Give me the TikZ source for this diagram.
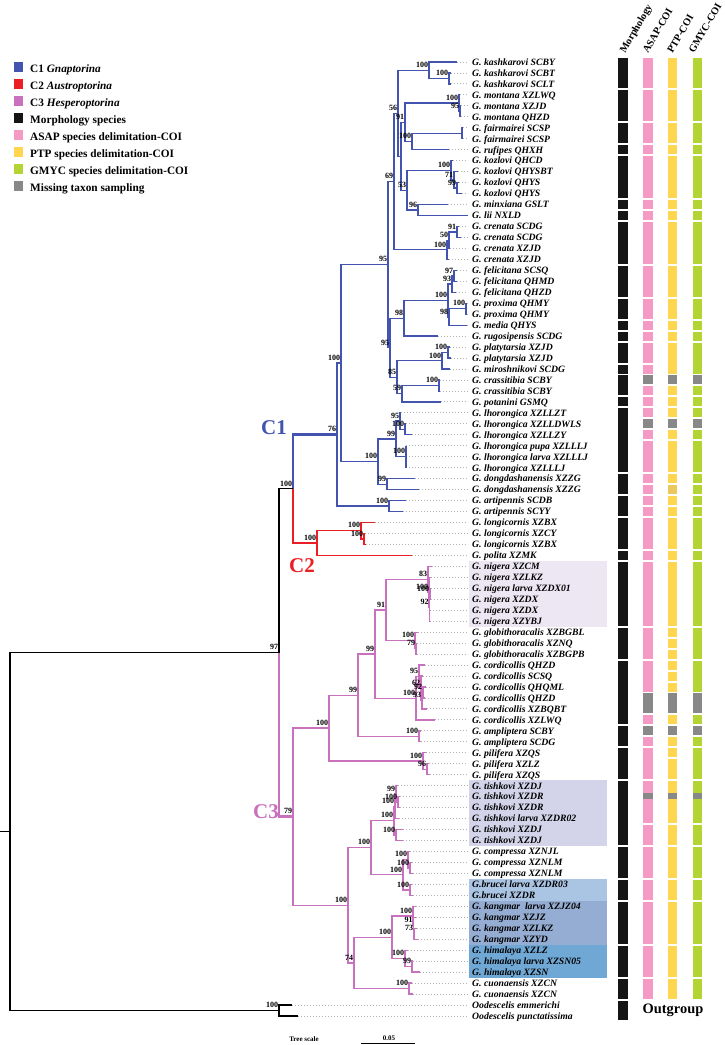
\documentclass[tikz,border=0pt]{standalone}
\usepackage{fontspec}
\setmainfont{Liberation Serif}
\usetikzlibrary{calc}
\definecolor{cblue}{RGB}{66,84,176}
\definecolor{cred}{RGB}{235,30,36}
\definecolor{cpink}{RGB}{201,112,191}
\definecolor{mblack}{RGB}{22,20,20}
\definecolor{asap}{RGB}{244,154,196}
\definecolor{ptp}{RGB}{255,214,80}
\definecolor{ptpd}{RGB}{234,200,92}
\definecolor{gmyc}{RGB}{180,211,53}
\definecolor{miss}{RGB}{136,136,136}
\definecolor{hlnig}{RGB}{237,231,243}
\definecolor{hltis}{RGB}{211,211,234}
\definecolor{hlbru}{RGB}{170,196,227}
\definecolor{hlkan}{RGB}{149,173,210}
\definecolor{hlhim}{RGB}{112,168,213}
\newcommand\myfs[1]{\fontsize{#1}{#1}\selectfont}
\newcommand\LY[1]{(62+(#1-1)*10.965)}
\newcommand\nd[4]{\path let \p1=(#3), \p2=(#4) in coordinate (#1) at (#2pt,{0.5*\y1+0.5*\y2});}
\newcommand\E[3]{\draw[#1] (#2) |- (#3);}
\newcommand\Eb[4]{\draw[#1] (#2) |- (#3) (#2) |- (#4);}
\newcommand\bs[2]{\node[bsl] (bs-#1) at (#1) {#2};}
\begin{document}
\begin{tikzpicture}[x=1pt,y=-1pt,
  lab/.style={anchor=base west, inner sep=0pt, font=\myfs{9.7}\bfseries\itshape},
  bsl/.style={anchor=south east, inner sep=0pt, xshift=-0.6pt, yshift=2.5pt, font=\myfs{8}\bfseries},
  lead/.style={draw=black!30, line width=0.9pt, dash pattern=on 0.9pt off 2.1pt},
  br1/.style={draw=cblue, line width=1.3pt},
  br1t/.style={draw=cblue, line width=2.6pt},
  br2/.style={draw=cred, line width=1.3pt},
  br2t/.style={draw=cred, line width=2.6pt},
  br3/.style={draw=cpink, line width=1.3pt},
  br3t/.style={draw=cpink, line width=2.6pt},
  brk/.style={draw=black, line width=1.3pt},
  leg/.style={anchor=base west, inner sep=0pt, font=\myfs{11.3}\bfseries},
  hdr/.style={anchor=base west, inner sep=0pt, rotate=60, font=\myfs{10.3}\bfseries},
  cl/.style={inner sep=0pt, font=\myfs{21}\bfseries}]
\fill[white] (0,0) rectangle (725,1045);
\useasboundingbox (0,0) rectangle (725,1045);
% highlights
\fill[hlnig] (469,{\LY{47}-5.5}) rectangle (607,{\LY{52}+5.5});
\fill[hltis] (469,{\LY{67}-5.5}) rectangle (607,{\LY{72}+5.5});
\fill[hlbru] (469,{\LY{76}-5.5}) rectangle (607,{\LY{77}+5.5});
\fill[hlkan] (469,{\LY{78}-5.5}) rectangle (607,{\LY{81}+5.5});
\fill[hlhim] (469,{\LY{82}-5.5}) rectangle (607,{\LY{84}+5.5});
% leaf tips
\foreach \i/\x in {1/457,2/451,3/451,4/460,5/461,6/461,7/463,8/463,9/449,10/453,
 11/458,12/459,13/462,14/448,15/468,16/459,17/461,18/450,19/449,20/457,
 21/457,22/456,23/467,24/467,25/467,26/438,27/450,28/451,29/450,30/440,
 31/440,32/441,33/401,34/406,35/412,36/406,37/406,38/406,39/415,40/419,
 41/406,42/403,43/375,44/365,45/366,46/412,47/432,48/431,49/431,50/431,
 51/430,52/430,53/418,54/417,55/417,56/425,57/423,58/426,59/425,60/427,
 61/435,62/421,63/421,64/426,65/429,66/430,67/398,68/400,69/400,70/399,
 71/403,72/403,73/410,74/412,75/413,76/412,77/413,78/416,79/416,80/417,
 81/418,82/408,83/413,84/420,85/412,86/413,87/292,88/298}
 {\coordinate (t\i) at (\x,{\LY{\i}});}
% internal nodes C1
\nd{K2}{449}{t2}{t3}
\nd{K}{429}{t1}{K2}
\nd{Mo2}{460}{t5}{t6}
\nd{Mo}{459}{t4}{Mo2}
\nd{Fa}{462}{t7}{t8}
\nd{FR}{412}{Fa}{t9}
\nd{MF}{405}{Mo}{FR}
\nd{Kz3}{457}{t12}{t13}
\nd{Kz2}{454}{t11}{Kz3}
\nd{Kz}{451}{t10}{Kz2}
\nd{Nn96}{418}{t14}{t15}
\nd{Nn53}{407}{Kz}{Nn96}
\nd{Nx}{401}{MF}{Nn53}
\nd{Nn56}{398}{K}{Nx}
\nd{Cr2}{457}{t16}{t17}
\nd{Cr1}{449}{Cr2}{t18}
\nd{Cr}{447}{Cr1}{t19}
\nd{Nn69}{394}{Nn56}{Cr}
\nd{F2}{454}{t20}{t21}
\nd{Ff}{452}{F2}{t22}
\nd{Px}{466}{t23}{t24}
\nd{PM}{449}{Px}{t25}
\nd{FPM}{448}{Ff}{PM}
\nd{Nn98}{404}{FPM}{t26}
\nd{Pl}{448}{t27}{t28}
\nd{PMi}{442}{Pl}{t29}
\nd{Cs}{439}{t30}{t31}
\nd{Nn59}{402}{Cs}{t32}
\nd{Nn85}{397}{PMi}{Nn59}
\nd{Nn95b}{390}{Nn98}{Nn85}
\nd{Nn95}{388}{Nn69}{Nn95b}
\nd{Lh2}{405}{t34}{t35}
\nd{Lh1}{400}{t33}{Lh2}
\nd{Lh3}{406}{t36}{t38}
\nd{Lh}{396}{Lh1}{Lh3}
\nd{Dd}{387}{t39}{t40}
\nd{LD}{378}{Lh}{Dd}
\nd{Na}{341}{Nn95}{LD}
\nd{Ar}{389}{t41}{t42}
\nd{Cone}{337}{Na}{Ar}
% C2
\nd{Lo2}{364}{t44}{t45}
\nd{Lo}{361}{t43}{Lo2}
\nd{Ctwo}{317}{Lo}{t46}
\nd{CC}{293}{Cone}{Ctwo}
% C3
\nd{Ng3}{430}{t49}{t50}
\nd{Ng2}{429.5}{Ng3}{t52}
\nd{Ng1}{429}{t48}{Ng2}
\nd{Ng}{428}{t47}{Ng1}
\nd{G2}{416}{t54}{t55}
\nd{Gg}{415}{t53}{G2}
\nd{N91}{386}{Ng}{Gg}
\nd{Yy}{423}{t58}{t59}
\nd{Zz}{422}{Yy}{t60}
\nd{Xx}{421}{t57}{Zz}
\nd{Co1}{419}{t56}{Xx}
\nd{Co}{416}{Co1}{t61}
\nd{A11}{375}{N91}{Co}
\nd{Am}{419}{t62}{t63}
\nd{A1}{358}{A11}{Am}
\nd{P2}{427}{t65}{t66}
\nd{Pf}{423}{t64}{P2}
\nd{Aa}{329}{A1}{Pf}
\nd{T1b}{398}{t68}{t69}
\nd{T1a}{396}{t67}{T1b}
\nd{T1}{395}{T1a}{t70}
\nd{T2}{396}{t71}{t72}
\nd{Tt}{394}{T1}{T2}
\nd{Cp2}{410}{t74}{t75}
\nd{Cp}{408}{t73}{Cp2}
\nd{Br}{410}{t76}{t77}
\nd{CB}{403}{Cp}{Br}
\nd{B1}{371}{Tt}{CB}
\nd{Km3}{414}{t80}{t81}
\nd{Km2}{413.5}{t79}{Km3}
\nd{Km}{413}{t78}{Km2}
\nd{H2}{412}{t83}{t84}
\nd{Hh}{405}{t82}{H2}
\nd{KH}{392}{Km}{Hh}
\nd{Cu}{409}{t85}{t86}
\nd{B2}{354}{KH}{Cu}
\nd{Bb}{348}{B1}{B2}
\nd{N79}{293}{Aa}{Bb}
\nd{N97}{279}{CC}{N79}
\nd{Oo}{279}{t87}{t88}
\nd{Rt}{10}{N97}{Oo}
\coordinate (O0) at (0,0);
\coordinate (LX) at (468,0);
% leaders
\foreach \i in {1,...,88} {\draw[lead] (t\i) -- (t\i -| LX);}
% branches C1
\Eb{br1}{K2}{t2}{t3}
\Eb{br1}{K}{t1}{K2}
\Eb{br1}{Mo2}{t5}{t6}
\Eb{br1}{Mo}{t4}{Mo2}
\Eb{br1}{Fa}{t7}{t8}
\Eb{br1}{FR}{Fa}{t9}
\Eb{br1}{MF}{Mo}{FR}
\Eb{br1}{Kz3}{t12}{t13}
\Eb{br1}{Kz2}{t11}{Kz3}
\Eb{br1}{Kz}{t10}{Kz2}
\Eb{br1}{Nn96}{t14}{t15}
\Eb{br1}{Nn53}{Kz}{Nn96}
\Eb{br1}{Nx}{MF}{Nn53}
\Eb{br1}{Nn56}{K}{Nx}
\Eb{br1}{Cr2}{t16}{t17}
\Eb{br1}{Cr1}{Cr2}{t18}
\Eb{br1}{Cr}{Cr1}{t19}
\Eb{br1}{Nn69}{Nn56}{Cr}
\Eb{br1}{F2}{t20}{t21}
\Eb{br1}{Ff}{F2}{t22}
\Eb{br1}{Px}{t23}{t24}
\Eb{br1}{PM}{Px}{t25}
\Eb{br1}{FPM}{Ff}{PM}
\Eb{br1}{Nn98}{FPM}{t26}
\Eb{br1}{Pl}{t27}{t28}
\Eb{br1}{PMi}{Pl}{t29}
\Eb{br1}{Cs}{t30}{t31}
\Eb{br1}{Nn59}{Cs}{t32}
\Eb{br1}{Nn85}{PMi}{Nn59}
\Eb{br1}{Nn95b}{Nn98}{Nn85}
\Eb{br1}{Nn95}{Nn69}{Nn95b}
\Eb{br1}{Lh2}{t34}{t35}
\Eb{br1}{Lh1}{t33}{Lh2}
\Eb{br1}{Lh3}{t36}{t38}
\E{br1}{Lh3}{t37}
\Eb{br1}{Lh}{Lh1}{Lh3}
\Eb{br1}{Dd}{t39}{t40}
\Eb{br1}{LD}{Lh}{Dd}
\Eb{br1}{Na}{Nn95}{LD}
\Eb{br1}{Ar}{t41}{t42}
\Eb{br1}{Cone}{Na}{Ar}
% C2
\Eb{br2}{Lo2}{t44}{t45}
\Eb{br2}{Lo}{t43}{Lo2}
\Eb{br2}{Ctwo}{Lo}{t46}
% C3
\Eb{br3}{Ng3}{t49}{t50}
\Eb{br3}{Ng2}{Ng3}{t52}
\E{br3}{Ng2}{t51}
\Eb{br3}{Ng1}{t48}{Ng2}
\Eb{br3}{Ng}{t47}{Ng1}
\Eb{br3}{G2}{t54}{t55}
\Eb{br3}{Gg}{t53}{G2}
\Eb{br3}{N91}{Ng}{Gg}
\Eb{br3}{Yy}{t58}{t59}
\Eb{br3}{Zz}{Yy}{t60}
\Eb{br3}{Xx}{t57}{Zz}
\Eb{br3}{Co1}{t56}{Xx}
\Eb{br3}{Co}{Co1}{t61}
\Eb{br3}{A11}{N91}{Co}
\Eb{br3}{Am}{t62}{t63}
\Eb{br3}{A1}{A11}{Am}
\Eb{br3}{P2}{t65}{t66}
\Eb{br3}{Pf}{t64}{P2}
\Eb{br3}{Aa}{A1}{Pf}
\Eb{br3}{T1b}{t68}{t69}
\Eb{br3}{T1a}{t67}{T1b}
\Eb{br3}{T1}{T1a}{t70}
\Eb{br3}{T2}{t71}{t72}
\Eb{br3}{Tt}{T1}{T2}
\Eb{br3}{Cp2}{t74}{t75}
\Eb{br3}{Cp}{t73}{Cp2}
\Eb{br3}{Br}{t76}{t77}
\Eb{br3}{CB}{Cp}{Br}
\Eb{br3}{B1}{Tt}{CB}
\Eb{br3}{Km3}{t80}{t81}
\Eb{br3}{Km2}{t79}{Km3}
\Eb{br3}{Km}{t78}{Km2}
\Eb{br3}{H2}{t83}{t84}
\Eb{br3}{Hh}{t82}{H2}
\Eb{br3}{KH}{Km}{Hh}
\Eb{br3}{Cu}{t85}{t86}
\Eb{br3}{B2}{KH}{Cu}
\Eb{br3}{Bb}{B1}{B2}
\Eb{br3}{N79}{Aa}{Bb}
% backbone
\E{br1t}{CC}{Cone}
\E{br2t}{CC}{Ctwo}
\E{br3t}{N97}{N79}
\E{brk}{N97}{CC}
\Eb{brk}{Oo}{t87}{t88}
\Eb{brk}{Rt}{N97}{Oo}
\draw[brk] (O0 |- Rt) -- (Rt);
% bootstrap
\bs{K}{100}\bs{K2}{100}\bs{Mo}{100}\bs{Mo2}{95}\bs{FR}{100}\bs{MF}{91}
\bs{Kz}{100}\bs{Kz2}{71}\bs{Kz3}{99}\bs{Nn96}{96}\bs{Nn53}{53}\bs{Nn56}{56}
\bs{Cr2}{91}\bs{Cr1}{50}\bs{Cr}{100}\bs{Nn69}{69}\bs{F2}{97}\bs{Ff}{93}
\bs{Px}{100}\bs{PM}{98}\bs{FPM}{100}\bs{Nn98}{98}\bs{Pl}{100}\bs{PMi}{100}
\bs{Cs}{100}\bs{Nn59}{59}\bs{Nn85}{85}\bs{Nn95b}{95}\bs{Nn95}{95}
\bs{Lh2}{100}\bs{Lh1}{95}\bs{Lh3}{100}\bs{Lh}{99}\bs{Dd}{99}\bs{LD}{100}
\bs{Na}{100}\bs{Ar}{100}\bs{Cone}{76}\bs{CC}{100}
\bs{Lo2}{100}\bs{Lo}{100}\bs{Ctwo}{100}\bs{N97}{97}\bs{Oo}{100}
\bs{Ng}{83}\bs{Ng1}{100}\bs{Ng3}{100}\bs{Ng2}{92}\bs{Gg}{100}\bs{G2}{79}
\bs{N91}{91}\bs{Co}{100}\bs{Co1}{95}\bs{Xx}{62}\bs{Zz}{93}\bs{Yy}{92}
\bs{A11}{99}\bs{Am}{100}\bs{A1}{99}\bs{Pf}{100}\bs{P2}{96}\bs{Aa}{100}
\bs{Tt}{100}\bs{T1}{100}\bs{T1a}{99}\bs{T1b}{100}\bs{T2}{100}
\bs{Cp}{100}\bs{Cp2}{100}\bs{Br}{100}\bs{CB}{100}\bs{B1}{100}
\bs{Km}{100}\bs{Km2}{91}\bs{Km3}{73}\bs{Hh}{100}\bs{H2}{99}\bs{KH}{100}
\bs{Cu}{100}\bs{B2}{74}\bs{Bb}{100}\bs{N79}{79}
% clade labels
\node[cl, text=cblue] (lc1) at (274,428) {C1};
\node[cl, text=cred] (lc2) at (302,566) {C2};
\node[cl, text=cpink] (lc3) at (266,812) {C3};
% leaf labels
\foreach \i/\t in {1/G. kashkarovi SCBY,2/G. kashkarovi SCBT,3/G. kashkarovi SCLT,
 4/G. montana XZLWQ,5/G. montana XZJD,6/G. montana QHZD,7/G. fairmairei SCSP,
 8/G. fairmairei SCSP,9/G. rufipes QHXH,10/G. kozlovi QHCD,11/G. kozlovi QHYSBT,
 12/G. kozlovi QHYS,13/G. kozlovi QHYS,14/G. minxiana GSLT,15/G. lii NXLD,
 16/G. crenata SCDG,17/G. crenata SCDG,18/G. crenata XZJD,19/G. crenata XZJD,
 20/G. felicitana SCSQ,21/G. felicitana QHMD,22/G. felicitana QHZD,
 23/G. proxima QHMY,24/G. proxima QHMY,25/G. media QHYS,26/G. rugosipensis SCDG,
 27/G. platytarsia XZJD,28/G. platytarsia XZJD,29/G. miroshnikovi SCDG,
 30/G. crassitibia SCBY,31/G. crassitibia SCBY,32/G. potanini GSMQ,
 33/G. lhorongica XZLLZT,34/G. lhorongica XZLLDWLS,35/G. lhorongica XZLLZY,
 36/G. lhorongica pupa XZLLLJ,37/G. lhorongica larva XZLLLJ,38/G. lhorongica XZLLLJ,
 39/G. dongdashanensis XZZG,40/G. dongdashanensis XZZG,41/G. artipennis SCDB,
 42/G. artipennis SCYY,43/G. longicornis XZBX,44/G. longicornis XZCY,
 45/G. longicornis XZBX,46/G. polita XZMK,47/G. nigera XZCM,48/G. nigera XZLKZ,
 49/G. nigera larva XZDX01,50/G. nigera XZDX,51/G. nigera XZDX,52/G. nigera XZYBJ,
 53/G. globithoracalis XZBGBL,54/G. globithoracalis XZNQ,55/G. globithoracalis XZBGPB,
 56/G. cordicollis QHZD,57/G. cordicollis SCSQ,58/G. cordicollis QHQML,
 59/G. cordicollis QHZD,60/G. cordicollis XZBQBT,61/G. cordicollis XZLWQ,
 62/G. ampliptera SCBY,63/G. ampliptera SCDG,64/G. pilifera XZQS,65/G. pilifera XZLZ,
 66/G. pilifera XZQS,67/G. tishkovi XZDJ,68/G. tishkovi XZDR,69/G. tishkovi XZDR,
 70/G. tishkovi larva XZDR02,71/G. tishkovi XZDJ,72/G. tishkovi XZDJ,
 73/G. compressa XZNJL,74/G. compressa XZNLM,75/G. compressa XZNLM,
 76/G.brucei larva XZDR03,77/G.brucei XZDR,78/{G. kangmar\ \ larva XZJZ04},
 79/G. kangmar XZJZ,80/G. kangmar XZLKZ,81/G. kangmar XZYD,82/G. himalaya XZLZ,
 83/G. himalaya larva XZSN05,84/G. himalaya XZSN,85/G. cuonaensis XZCN,
 86/G. cuonaensis XZCN,87/Oodescelis emmerichi,88/Oodescelis punctatissima}
 {\node[lab] (L\i) at (472,{\LY{\i}+3.3}) {\t};}
% bars
\foreach \a/\b in {1/3,4/6,7/8,9/9,10/13,14/14,15/15,16/19,20/22,23/24,25/25,26/26,27/28,29/29,30/31,32/32,33/38,39/40,41/42,43/45,46/46,47/52,53/55,56/61,62/63,64/66,67/72,73/75,76/77,78/81,82/84,85/86,87/88}
 {\fill[mblack] (618,{\LY{\a}-4.5}) rectangle (627.5,{\LY{\b}+4.5});}
\foreach \a/\b in {1/3,4/6,7/8,9/9,10/13,14/14,15/15,16/19,20/22,23/24,25/25,26/26,27/28,29/29,31/31,32/32,33/33,35/35,36/38,39/39,40/40,41/41,42/42,43/45,46/46,47/52,53/55,56/58,61/61,63/63,64/66,67/70,71/72,73/75,76/77,78/81,82/84,85/86}
 {\fill[asap] (643,{\LY{\a}-4.5}) rectangle (652.5,{\LY{\b}+4.5});}
\foreach \a/\b in {1/3,4/6,7/8,9/9,10/13,14/14,15/15,16/19,20/22,23/24,25/25,26/26,27/29,31/31,32/32,33/33,35/35,36/38,39/39,41/41,42/42,43/45,46/46,47/52,53/53,54/54,55/55,56/56,57/57,58/58,61/61,63/63,64/64,65/66,67/70,71/72,73/75,76/77,78/81,82/84,85/86}
 {\fill[ptp] (668,{\LY{\a}-4.5}) rectangle (677,{\LY{\b}+4.5});}
\fill[ptpd] (668,{\LY{40}-4.5}) rectangle (677,{\LY{40}+4.5});
\foreach \a/\b in {1/3,4/6,7/8,9/9,10/13,14/14,15/15,16/19,20/22,23/24,25/25,26/26,27/29,31/31,32/32,33/33,35/35,36/38,39/39,40/40,41/41,42/42,43/45,46/46,47/52,53/55,56/58,61/61,63/63,64/66,67/70,71/72,73/75,76/77,78/81,82/84,85/86}
 {\fill[gmyc] (692.5,{\LY{\a}-4.5}) rectangle (702,{\LY{\b}+4.5});}
\foreach \x/\w in {643/9.5,668/9,692.5/9.5}{
 \foreach \a/\b in {30/30,34/34,59/60,62/62}
  {\fill[miss] (\x,{\LY{\a}-4.5}) rectangle ({\x+\w},{\LY{\b}+4.5});}
 \fill[miss] (\x,792.7) rectangle ({\x+\w},799.3);}
% headers
\node[hdr] (h1) at (625,54) {Morphology};
\node[hdr] (h2) at (648,54) {ASAP-COI};
\node[hdr] (h3) at (672.5,54) {PTP-COI};
\node[hdr] (h4) at (694,54) {GMYC-COI};
\node[font=\myfs{14.4}\bfseries, inner sep=0pt] (og) at (673,1010) {Outgroup};
% legend
\foreach \k/\c/\t in {0/cblue/{C1 \textit{Gnaptorina}},1/cred/{C2 \textit{Austroptorina}},
 2/cpink/{C3 \textit{Hesperoptorina}},3/mblack/{Morphology species},
 4/asap/{ASAP species delimitation-COI},5/ptp/{PTP species delimitation-COI},
 6/gmyc/{GMYC species delimitation-COI},7/miss/{Missing taxon sampling}}
 {\fill[\c] (14,{62.3+\k*16.9}) rectangle (23,{72.3+\k*16.9});
  \node[leg] (lg\k) at (30,{72.7+\k*16.9}) {\t};}
% tree scale
\node[anchor=base, inner sep=0pt, font=\myfs{7}\bfseries] (tsl) at (304,1041) {Tree scale};
\node[anchor=base, inner sep=0pt, font=\myfs{7}\bfseries] (tsv) at (389,1040) {0.05};
\coordinate (sb1) at (361,1043.5);
\coordinate (sb2) at (415,1043.5);
\draw[line width=0.9pt] (sb1) -- (sb2);
\end{tikzpicture}
\end{document}
